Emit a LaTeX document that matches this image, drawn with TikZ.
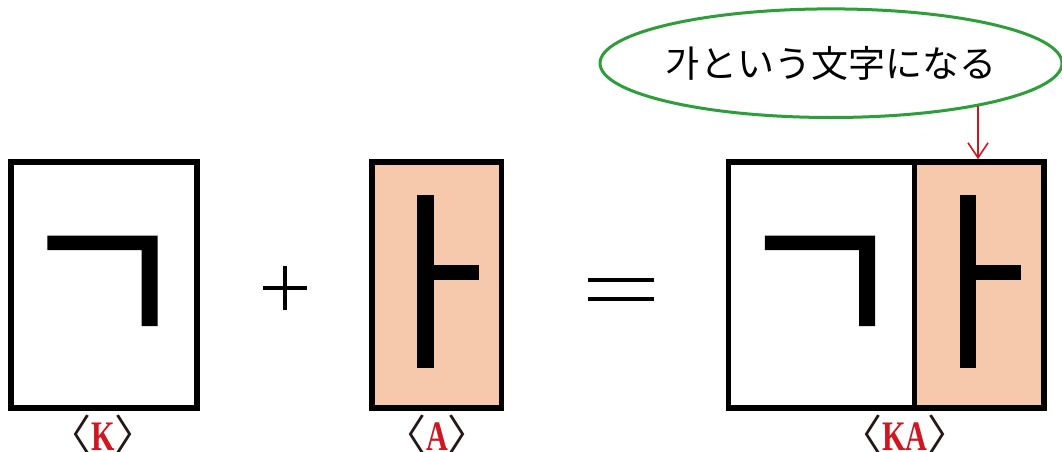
\documentclass[tikz,border=0pt]{standalone}
\usepackage{fontspec}
\usetikzlibrary{shapes.geometric,arrows.meta}
\newfontfamily\cjk{Noto Sans CJK JP}
\newfontfamily\labfont{Liberation Serif}[FakeStretch=0.72]
\definecolor{peach}{HTML}{F7C9AC}
\definecolor{labred}{HTML}{D0161E}
\definecolor{brk}{HTML}{231815}
\definecolor{calloutgreen}{HTML}{2E9E3A}
\begin{document}
\begin{tikzpicture}[x=1pt,y=-1pt,
  box/.style={draw=black,line width=5.5pt,minimum width=#1,minimum height=246pt,inner sep=0pt},
  stroke/.style={fill=black},
  lab/.style={anchor=base,inner sep=0pt,font=\fontsize{42}{42}\selectfont},
  callout/.style={ellipse,draw=calloutgreen,line width=3pt,minimum width=462pt,minimum height=108.6pt,inner sep=0pt},
  redarrow/.style={draw=labred,line width=1.6pt,-{Straight Barb[length=15pt,width=20pt]}}]
\clip (0,0) rectangle (1062,452);
\fill[white] (0,0) rectangle (1062,452);
% boxes
\node[box=186pt] (kbox) at (104,285) {};
\node[box=129.5pt,fill=peach] (abox) at (436.75,285) {};
\node[box=186pt] (kaL) at (821.5,285) {};
\node[box=129.5pt,fill=peach] (kaR) at (979.25,285) {};
% giyeok strokes
\foreach \L in {11,728.5}{
  \fill[stroke] (\L+36.3,235.7) -- (\L+146.7,235.7) -- (\L+146.7,326) -- (\L+130.7,326) -- (\L+130.7,250) -- (\L+36.3,250) -- cycle;
}
% a strokes
\foreach \L in {372,914.5}{
  \fill[stroke] (\L+45.3,195) rectangle (\L+61.8,368.3);
  \fill[stroke] (\L+61.8,265) rectangle (\L+106.5,280);
}
% plus and equals
\draw[line width=4pt] (263.3,288) -- (306.7,288) (285,266) -- (285,310);
\draw[line width=4pt] (588.3,280.3) -- (654.3,280.3) (588.3,299.3) -- (654.3,299.3);
% labels
\node[lab] (labK) at (103,450) {{\cjk\textcolor{brk}{〈}}{\labfont\bfseries\textcolor{labred}{K}}{\cjk\textcolor{brk}{〉}}};
\node[lab] (labA) at (437,450) {{\cjk\textcolor{brk}{〈}}{\labfont\bfseries\textcolor{labred}{A}}{\cjk\textcolor{brk}{〉}}};
\node[lab] (labKA) at (905,450) {{\cjk\textcolor{brk}{〈}}{\labfont\bfseries\textcolor{labred}{KA}}{\cjk\textcolor{brk}{〉}}};
% callout
\node[callout] (ell) at (831,63.2) {};
\node[inner sep=0pt,font=\cjk\fontsize{37}{37}\selectfont] (ellText) at (ell.center) {가という文字になる};
\coordinate (arrS) at (978,105.5);
\draw[redarrow] (arrS) -- (arrS |- kaR.north);
\end{tikzpicture}
\end{document}
